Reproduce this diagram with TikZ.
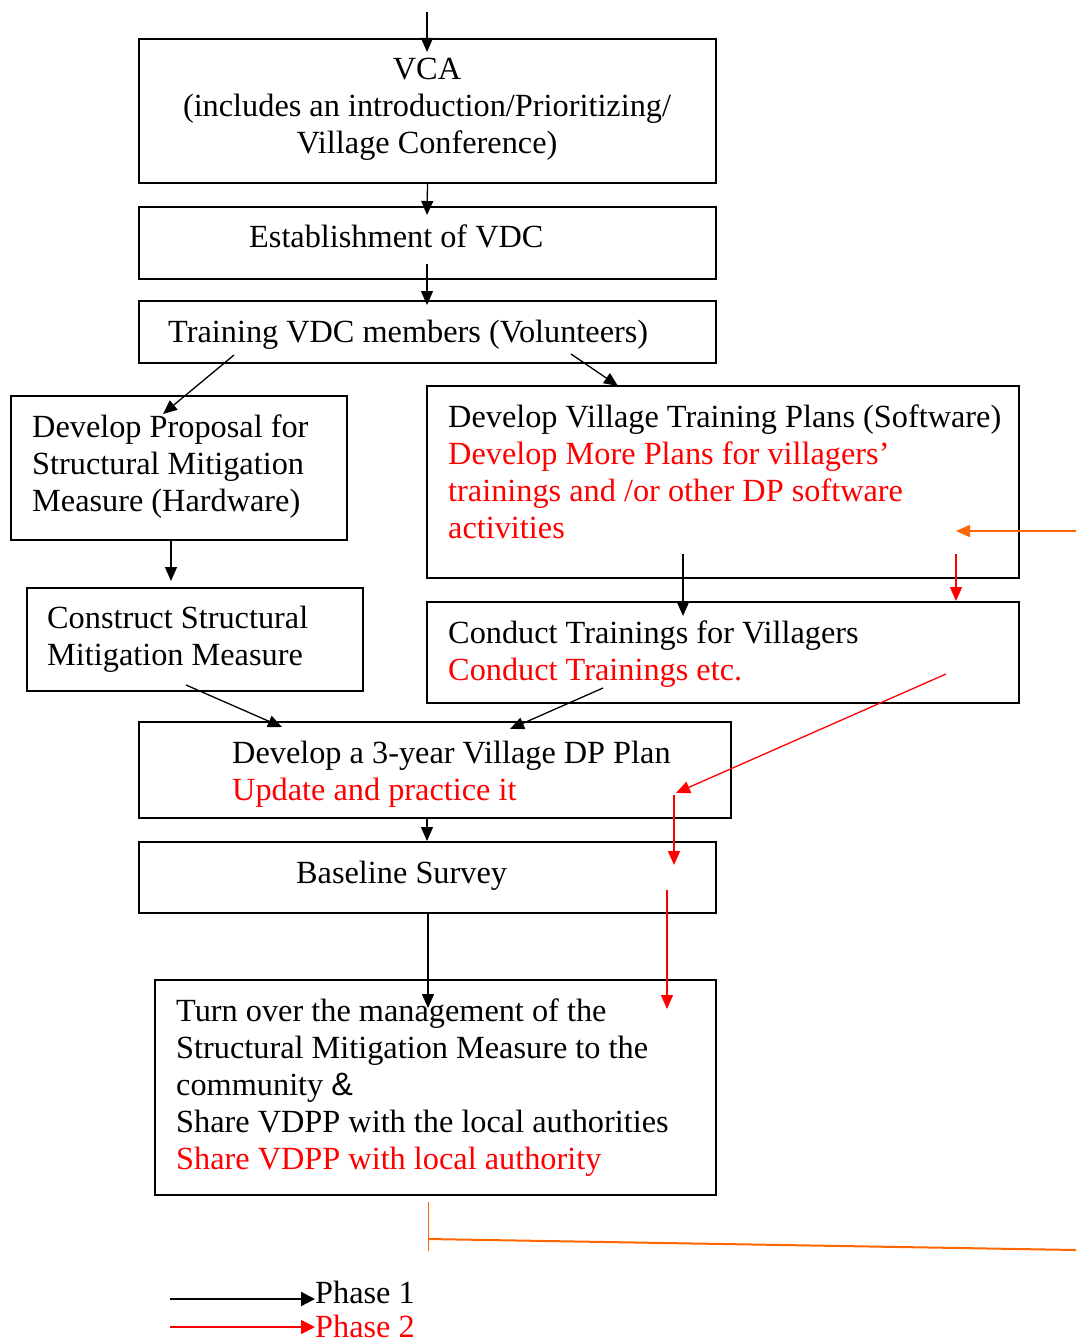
\documentclass[tikz,border=0pt]{standalone}
\usepackage{fontspec}
\setmainfont{Liberation Serif}
\newfontfamily\ampfont{Liberation Sans}
\usetikzlibrary{arrows.meta}
\definecolor{phasetwo}{RGB}{255,0,0}
\definecolor{loopback}{RGB}{255,102,0}
\tikzset{
  box/.style={draw, line width=1.9pt, inner sep=0pt},
  txt/.style={anchor=north west, align=left, inner sep=0pt, font=\fontsize{32.3}{37}\selectfont, execute at begin node=\strut},
  arr/.style={-{Triangle[length=14pt,width=12pt]}, line width=1.3pt},
  redarr/.style={arr, phasetwo},
  legarr/.style={-{Triangle[length=14pt,width=14pt]}, line width=2.2pt},
}
\begin{document}
\begin{tikzpicture}[x=1pt, y=-1pt]
      \useasboundingbox (0,0) rectangle (1076,1343);

            \node[box, minimum width=577pt, minimum height=144pt] (vca) at (427.5,111) {};
                \node[txt, anchor=north, align=center] (vcaT) at (427,58) {VCA\\(includes an introduction/Prioritizing/\\Village Conference)};
            \node[box, minimum width=577pt, minimum height=72pt] (vdc) at (427.5,243) {};
                \node[txt] (vdcT) at (249,221) {Establishment of VDC};
            \node[box, minimum width=577pt, minimum height=62pt] (train) at (427.5,332) {};
                \node[txt] (trainT) at (168,316) {Training VDC members (Volunteers)};

            \node[box, minimum width=336pt, minimum height=144pt] (prop) at (179,468) {};
                \node[txt] (propT) at (32,415) {Develop Proposal for\\Structural Mitigation\\Measure (Hardware)};
            \node[box, minimum width=592pt, minimum height=192pt] (soft) at (723,482) {};
                \node[txt] (softT) at (448,405) {Develop Village Training Plans (Software)\\\textcolor{phasetwo}{Develop More Plans for villagers’}\\\textcolor{phasetwo}{trainings and /or other DP software}\\\textcolor{phasetwo}{activities}};

            \node[box, minimum width=336pt, minimum height=103pt] (cons) at (195,639.5) {};
                \node[txt] (consT) at (47,606) {Construct Structural\\Mitigation Measure};
            \node[box, minimum width=592pt, minimum height=101pt] (cond) at (723,652.5) {};
                \node[txt] (condT) at (448,621) {Conduct Trainings for Villagers\\\textcolor{phasetwo}{Conduct Trainings etc.}};

            \node[box, minimum width=592pt, minimum height=96pt] (plan) at (435,770) {};
                \node[txt] (planT) at (232,741) {Develop a 3-year Village DP Plan\\\textcolor{phasetwo}{Update and practice it}};
            \node[box, minimum width=577pt, minimum height=71pt] (base) at (427.5,877.5) {};
                \node[txt] (baseT) at (296,857) {Baseline Survey};
            \node[box, minimum width=561pt, minimum height=215pt] (turn) at (435.5,1087.5) {};
                \node[txt] (turnT) at (176,999) {Turn over the management of the\\Structural Mitigation Measure to the\\community {\ampfont\&}\\Share VDPP with the local authorities\\\textcolor{phasetwo}{Share VDPP with local authority}};

            \coordinate (start) at (427,12);
            \coordinate (vcaIn) at (427,52);
            \coordinate (vdcIn) at (427,215);
            \coordinate (vdcOut) at (427,264);
            \coordinate (trainIn) at (427,305);
            \coordinate (trainL) at (234,355);
            \coordinate (trainR) at (571,354);
            \coordinate (propIn) at (163,414);
            \coordinate (softIn) at (618,386);
            \coordinate (propOut) at (171,540);
            \coordinate (consIn) at (171,581);
            \coordinate (consOut) at (186,685);
            \coordinate (planL) at (282,727);
            \coordinate (softOut) at (683,554);
            \coordinate (condIn) at (683,616);
            \coordinate (condOut) at (603,688);
            \coordinate (planR) at (510,729);
            \coordinate (planOut) at (427,818);
            \coordinate (baseIn) at (427,841);
            \coordinate (baseOut) at (428,914);
            \coordinate (turnIn) at (428,1008);

            \draw[arr] (start) to (vcaIn);
            \draw[arr] (vca.south) to (vdcIn);
            \draw[arr] (vdcOut) to (trainIn);
            \draw[arr] (trainL) to (propIn);
            \draw[arr] (trainR) to (softIn);
            \draw[arr] (propOut) to (consIn);
            \draw[arr] (consOut) to (planL);
            \draw[arr] (softOut) to (condIn);
            \draw[arr] (condOut) to (planR);
            \draw[arr] (planOut) to (baseIn);
            \draw[arr] (baseOut) to (turnIn);

            \coordinate (softRed) at (956,554);
            \coordinate (condRed) at (956,601);
            \coordinate (condRedOut) at (946,674);
            \coordinate (planRed) at (676,793);
            \coordinate (planRedOut) at (674,795);
            \coordinate (baseRed) at (674,865);
            \coordinate (baseRedOut) at (667,890);
            \coordinate (turnRed) at (667,1009);

            \draw[redarr] (softRed) to (condRed);
            \draw[redarr] (condRedOut) to (planRed);
            \draw[redarr] (planRedOut) to (baseRed);
            \draw[redarr] (baseRedOut) to (turnRed);

            \coordinate (loopIn) at (1076,531);
            \coordinate (softBack) at (956,531);
            \coordinate (tickTop) at (428,1202);
            \coordinate (tickBot) at (428,1251);
            \coordinate (loopStart) at (428,1239);
            \coordinate (loopEnd) at (1076,1250);

            \draw[arr, loopback, line width=1.5pt] (loopIn) to (softBack);
            \draw[loopback, line width=1pt] (tickTop) to (tickBot);
            \draw[loopback, line width=2pt] (loopStart) to (loopEnd);

            \node[txt, anchor=base west, execute at begin node={}] (phaseOne) at (315,1303) {Phase 1};
            \node[txt, anchor=base west, execute at begin node={}] (phaseTwo) at (315,1337) {\textcolor{phasetwo}{Phase 2}};
            \coordinate (keyOne) at (170,1299);
            \coordinate (keyTwo) at (170,1327);
            \draw[legarr] (keyOne) to (phaseOne.west |- keyOne);
            \draw[legarr, phasetwo, line width=1.6pt] (keyTwo) to (phaseTwo.west |- keyTwo);
      \end{tikzpicture}
\end{document}
